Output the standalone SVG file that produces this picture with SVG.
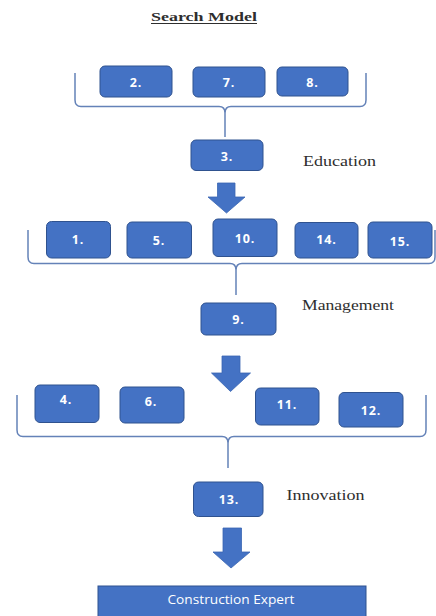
<svg xmlns="http://www.w3.org/2000/svg" width="436" height="616" viewBox="0 0 436 616">
<style>
.box{fill:#4472C4;stroke:#2F528F;stroke-width:1}
.num{fill:#ffffff;font-family:"Open Sans","Liberation Sans",sans-serif;font-weight:bold;font-size:12.5px;text-anchor:middle;letter-spacing:0.8px}
.lbl{fill:#2e2e2e;font-family:"Liberation Serif","DejaVu Serif",serif;font-size:14px}
.brace{fill:none;stroke:#6482B8;stroke-width:1.5;stroke-linejoin:round}
.arrow{fill:#4472C4;stroke:#3A66B3;stroke-width:0.8}
</style>
<rect width="436" height="616" fill="#ffffff"/>
<g id="title">
<text x="204" y="20.5" text-anchor="middle" font-family="Liberation Serif,serif" font-weight="bold" font-size="13.5" fill="#2e2e2e" textLength="106" lengthAdjust="spacingAndGlyphs">Search Model</text>
<line x1="151" y1="23.5" x2="257" y2="23.5" stroke="#2e2e2e" stroke-width="1"/>
</g>
<g id="connectors">
<path class="brace" d="M75,73 L75,100 Q75,106.5 81,106.5 L219,106.5 Q225,106.5 225,113 L225,137 M366,73 L366,100 Q366,106.5 360,106.5 L231,106.5 Q225,106.5 225,113"/>
<path class="brace" d="M28,230 L28,257 Q28,263.5 34,263.5 L230,263.5 Q236,263.5 236,270 L236,295 M435,230 L435,257 Q435,263.5 429,263.5 L242,263.5 Q236,263.5 236,270"/>
<path class="brace" d="M17,395 L17,430 Q17,436.5 23,436.5 L222,436.5 Q228,436.5 228,443 L228,468 M426,395 L426,430 Q426,436.5 420,436.5 L234,436.5 Q228,436.5 228,443"/>
<polygon class="arrow" points="217.5,183 235,183 235,197 245,197 226.5,213 208,197 217.5,197"/>
<polygon class="arrow" points="222,356 240,356 240,373 250.5,373 230.5,391.5 211.5,373 222,373"/>
<polygon class="arrow" points="223,528 241.5,528 241.5,552 250,552 231,568 213,552 223,552"/>
</g>
<g id="n2"><rect class="box" x="100" y="66" width="72" height="31" rx="5"/><text class="num" x="136" y="86.5">2.</text></g>
<g id="n7"><rect class="box" x="193" y="67" width="72" height="30" rx="5"/><text class="num" x="229" y="87">7.</text></g>
<g id="n8"><rect class="box" x="277" y="67" width="71" height="29" rx="5"/><text class="num" x="312.5" y="86.5">8.</text></g>
<g id="n3"><rect class="box" x="191" y="140" width="72" height="30.5" rx="5"/><text class="num" x="227" y="160.5">3.</text></g>
<g id="education"><text class="lbl" x="303" y="166" textLength="73" lengthAdjust="spacingAndGlyphs">Education</text></g>
<g id="n1"><rect class="box" x="46.5" y="221.5" width="64" height="36.5" rx="5"/><text class="num" x="78" y="243.5">1.</text></g>
<g id="n5"><rect class="box" x="127" y="222" width="64.5" height="36" rx="5"/><text class="num" x="159" y="244.5">5.</text></g>
<g id="n10"><rect class="box" x="213" y="219" width="64" height="37.5" rx="5"/><text class="num" x="245" y="243">10.</text></g>
<g id="n14"><rect class="box" x="295" y="222.5" width="63" height="35.5" rx="5"/><text class="num" x="326.5" y="243.5">14.</text></g>
<g id="n15"><rect class="box" x="368" y="222" width="64" height="36" rx="5"/><text class="num" x="400" y="245.5">15.</text></g>
<g id="n9"><rect class="box" x="201" y="303" width="75" height="32" rx="5"/><text class="num" x="238.5" y="324">9.</text></g>
<g id="management"><text class="lbl" x="302" y="310" textLength="92" lengthAdjust="spacingAndGlyphs">Management</text></g>
<g id="n4"><rect class="box" x="35" y="385" width="64" height="37.5" rx="5"/><text class="num" x="66" y="403.5">4.</text></g>
<g id="n6"><rect class="box" x="120" y="387" width="64" height="36" rx="5"/><text class="num" x="151" y="405.5">6.</text></g>
<g id="n11"><rect class="box" x="255.5" y="388" width="63.5" height="37" rx="5"/><text class="num" x="287" y="408.5">11.</text></g>
<g id="n12"><rect class="box" x="339" y="392.5" width="64" height="34.5" rx="5"/><text class="num" x="371" y="414.5">12.</text></g>
<g id="n13"><rect class="box" x="193.5" y="482" width="69.5" height="34.5" rx="5"/><text class="num" x="229" y="503.5">13.</text></g>
<g id="innovation"><text class="lbl" x="286.5" y="500" textLength="78" lengthAdjust="spacingAndGlyphs">Innovation</text></g>
<g id="expert"><rect x="98" y="586" width="268" height="34" fill="#4472C4" stroke="#2F528F" stroke-width="1"/><text x="231" y="604" text-anchor="middle" fill="#ffffff" font-family="Open Sans,Liberation Sans,sans-serif" font-size="12" textLength="127" lengthAdjust="spacingAndGlyphs">Construction Expert</text></g>
</svg>
